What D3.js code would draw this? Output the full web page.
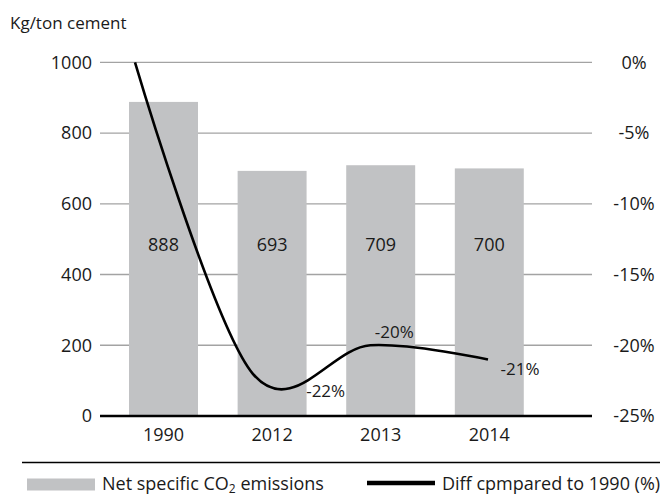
<!DOCTYPE html>
<html>
<head>
<meta charset="utf-8">
<script src="https://cdn.jsdelivr.net/npm/d3@7"></script>
<style>
  html, body { margin: 0; padding: 0; background: #fff; }
  svg { display: block; font-family: "Open Sans", "Noto Sans", sans-serif; }
</style>
</head>
<body>
<svg id="chart" width="660" height="498"></svg>
<script>
// ---- data ----
const years = ["1990", "2012", "2013", "2014"];
const emissions = [888, 693, 709, 700];          // kg CO2 / ton cement
const diffPct = [0, -22, -20, -21];              // % vs 1990
const diffLabels = ["", "-22%", "-20%", "-21%"];
const leftTicks = [0, 200, 400, 600, 800, 1000];
const rightTicks = [0, -5, -10, -15, -20, -25];
const rightTickLabels = ["0%", "-5%", "-10%", "-15%", "-20%", "-25%"];

// ---- layout ----
const labelOffsets = [[0, 0], [73, 17], [24, -13], [32, 10]];
const gridX0 = 100, gridX1 = 592;
const plotTop = 62.3, plotBottom = 416;

const svg = d3.select("#chart");

const yLeft = d3.scaleLinear().domain([0, 1000]).range([plotBottom, plotTop]);
const yRight = d3.scaleLinear().domain([-25, 0]).range([plotBottom, plotTop]);
const xBand = d3.scaleBand().domain(years).range([109.2, 543.6])
  .paddingInner(0.365).paddingOuter(0.1825);
const xLine = d3.scalePoint().domain(years).range([135, 488]);

// gridlines
svg.append("g").selectAll("line").data(leftTicks.filter(d => d !== 0)).join("line")
  .attr("x1", gridX0).attr("x2", gridX1)
  .attr("y1", d => yLeft(d)).attr("y2", d => yLeft(d))
  .attr("stroke", "#a3a3a3").attr("stroke-width", 1.3);

// left axis labels
svg.append("g").selectAll("text").data(leftTicks).join("text")
  .attr("x", 92).attr("y", d => yLeft(d)).attr("dy", "0.35em")
  .attr("text-anchor", "end").attr("font-size", 18).attr("fill", "#1a1a1a")
  .text(d => d);

// right axis labels
svg.append("g").selectAll("text").data(rightTicks).join("text")
  .attr("x", 634).attr("y", d => yRight(d)).attr("dy", "0.35em")
  .attr("text-anchor", "middle").attr("font-size", 18).attr("fill", "#1a1a1a")
  .text((d, i) => rightTickLabels[i]);

// unit label
svg.append("text").attr("x", 10).attr("y", 29).attr("font-size", 17)
  .attr("fill", "#1a1a1a").text("Kg/ton cement");

// bars
svg.append("g").selectAll("rect").data(emissions).join("rect")
  .attr("x", (d, i) => xBand(years[i]))
  .attr("width", xBand.bandwidth())
  .attr("y", d => yLeft(d))
  .attr("height", d => yLeft(0) - yLeft(d))
  .attr("fill", "#c1c2c4");

// bar value labels
svg.append("g").selectAll("text").data(emissions).join("text")
  .attr("x", (d, i) => xBand(years[i]) + xBand.bandwidth() / 2)
  .attr("y", yLeft(485)).attr("dy", "0.35em")
  .attr("text-anchor", "middle").attr("font-size", 18).attr("fill", "#1a1a1a")
  .text(d => d);

// baseline
svg.append("line").attr("x1", gridX0).attr("x2", gridX1)
  .attr("y1", yLeft(0)).attr("y2", yLeft(0))
  .attr("stroke", "#000").attr("stroke-width", 2.3);

// category labels
svg.append("g").selectAll("text").data(years).join("text")
  .attr("x", d => xBand(d) + xBand.bandwidth() / 2).attr("y", 441)
  .attr("text-anchor", "middle").attr("font-size", 18).attr("fill", "#1a1a1a")
  .text(d => d);

// line
const lineGen = d3.line()
  .x((d, i) => xLine(years[i]))
  .y(d => yRight(d))
  .curve(d3.curveCatmullRom.alpha(0));
svg.append("path").datum(diffPct)
  .attr("d", lineGen).attr("fill", "none")
  .attr("stroke", "#000").attr("stroke-width", 2.6);

// line labels
svg.append("g").selectAll("text").data(diffPct).join("text")
  .attr("x", (d, i) => xLine(years[i]) + labelOffsets[i][0])
  .attr("y", (d, i) => yRight(d) + labelOffsets[i][1]).attr("dy", "0.35em")
  .attr("text-anchor", "middle").attr("font-size", 17).attr("fill", "#1a1a1a")
  .text((d, i) => diffLabels[i]);

// legend
svg.append("line").attr("x1", 22).attr("x2", 660).attr("y1", 462.5).attr("y2", 462.5)
  .attr("stroke", "#000").attr("stroke-width", 1.5);
const lg = svg.append("g");
lg.append("rect").attr("x", 27).attr("y", 478.5).attr("width", 68).attr("height", 12)
  .attr("fill", "#c1c2c4");
const t1 = lg.append("text").attr("x", 102).attr("y", 490).attr("font-size", 18).attr("fill", "#1a1a1a");
t1.append("tspan").text("Net specific CO");
t1.append("tspan").attr("font-size", 12).attr("dy", 3).text("2");
t1.append("tspan").attr("dy", -3).text(" emissions");
lg.append("line").attr("x1", 367).attr("x2", 435).attr("y1", 483).attr("y2", 483)
  .attr("stroke", "#000").attr("stroke-width", 4.5);
lg.append("text").attr("x", 442).attr("y", 490).attr("font-size", 18).attr("fill", "#1a1a1a")
  .text("Diff cpmpared to 1990 (%)");
</script>
</body>
</html>
